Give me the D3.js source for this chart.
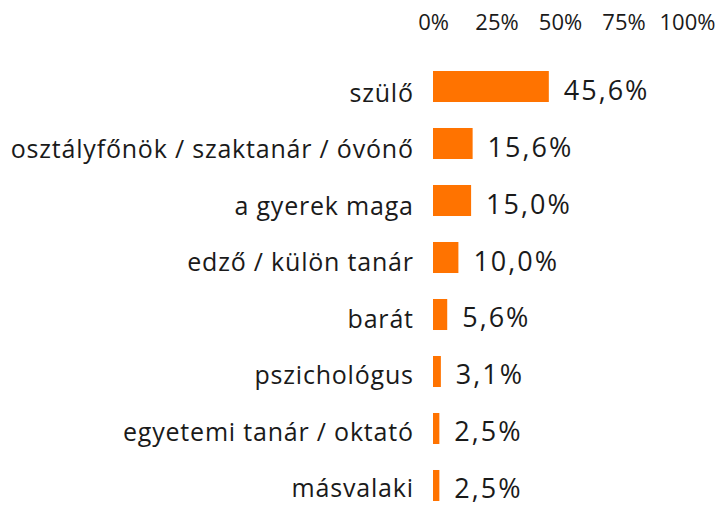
<!DOCTYPE html>
<html><head><meta charset="utf-8">
<script src="https://cdn.jsdelivr.net/npm/d3@7"></script>
<style>body{margin:0;background:#fff}</style>
</head><body>
<svg id="c" width="719" height="505"></svg>
<script>
const categories = ["szülő","osztályfőnök / szaktanár / óvónő","a gyerek maga","edző / külön tanár","barát","pszichológus","egyetemi tanár / oktató","másvalaki"];
const values = [45.6,15.6,15.0,10.0,5.6,3.1,2.5,2.5];
const valueLabels = ["45,6%","15,6%","15,0%","10,0%","5,6%","3,1%","2,5%","2,5%"];
const ticks = [0,25,50,75,100];

const svg = d3.select("#c");
const font = "'Open Sans', sans-serif";
const ink = "#1a1a1a";
const x = d3.scaleLinear().domain([0,100]).range([433,687]);
const y = d3.scaleBand().domain(categories).range([58,514]).paddingInner(0.456).paddingOuter(0.228);
const yLabel = d3.scalePoint().domain(categories).range([102,497]);
const yValue = d3.scalePoint().domain(categories).range([100,498]);

const axis = d3.axisTop(x).tickValues(ticks).tickFormat(d=>d+"%").tickSize(0).tickPadding(0);
const ag = svg.append("g").attr("transform","translate(0,30)").call(axis);
ag.select(".domain").remove();
ag.selectAll("text").attr("font-family",font).attr("font-size",22).attr("fill",ink).attr("dy",0);

svg.append("g").selectAll("rect").data(values).join("rect")
  .attr("x",x(0)).attr("y",(d,i)=>y(categories[i]))
  .attr("width",d=>x(d)-x(0)).attr("height",y.bandwidth()).attr("fill","#ff7300");

svg.append("g").selectAll("text").data(categories).join("text")
  .attr("x",413.8).attr("y",d=>yLabel(d))
  .attr("text-anchor","end").attr("font-family",font).attr("font-size",25)
  .attr("letter-spacing",0.8).attr("fill",ink).text(d=>d);

svg.append("g").selectAll("text").data(values).join("text")
  .attr("x",d=>x(d)+15).attr("y",(d,i)=>yValue(categories[i]))
  .attr("font-family",font).attr("font-size",27).attr("letter-spacing",2)
  .attr("fill",ink).text((d,i)=>valueLabels[i]);
</script>
</body></html>
